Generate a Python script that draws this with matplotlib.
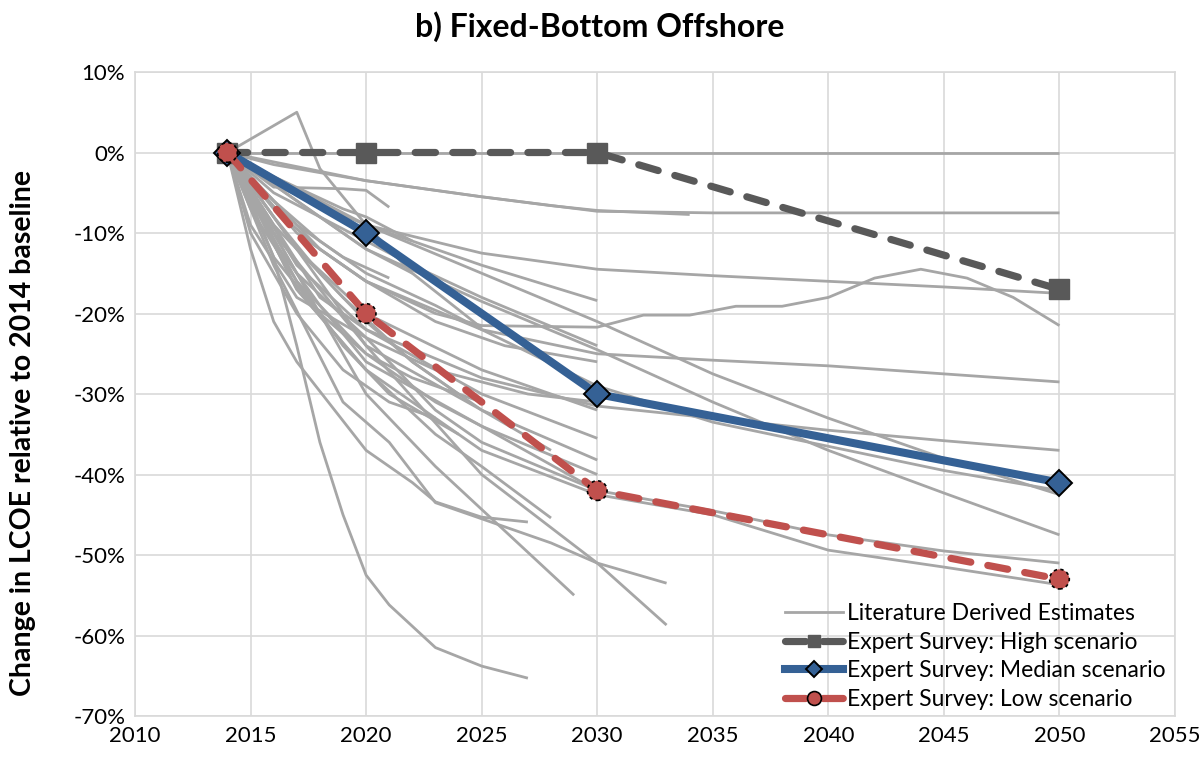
import numpy as np
import matplotlib
matplotlib.use("Agg")
import matplotlib.pyplot as plt
from matplotlib.lines import Line2D
from matplotlib.ticker import FuncFormatter, MultipleLocator

plt.rcParams['font.family'] = ['Lato', 'DejaVu Sans']

# expert survey scenarios (% change vs 2014)
survey_years = [2014, 2020, 2030, 2050]
high_vals = [0, 0, 0, -17]
median_vals = [0, -10, -30, -41]
low_vals = [0, -20, -42, -53]

# literature derived estimates, one (years, values) pair per study
literature = [
    ([2014, 2050], [0, 0]),
    ([2014, 2017, 2018, 2020, 2022, 2025], [0, 5, -2, -9, -15, -21.8]),
    ([2014, 2016, 2018, 2020, 2022, 2025, 2028, 2030, 2034], [0, -1.5, -2.5, -3.5, -4.3, -5.5, -6.6, -7.2, -7.7]),
    ([2014, 2020, 2025, 2030, 2035, 2040, 2050], [0, -3.5, -5.5, -7.3, -7.5, -7.5, -7.5]),
    ([2014, 2017, 2020, 2025, 2030, 2035, 2040, 2045, 2050], [0, -5, -9, -12.5, -14.5, -15.3, -16, -16.7, -17.5]),
    ([2014, 2017, 2020, 2023, 2025, 2030, 2032, 2034, 2036, 2038, 2040, 2042, 2044, 2046, 2048, 2050],
     [0, -10, -16, -20, -21.5, -21.7, -20.2, -20.2, -19.1, -19.1, -18, -15.6, -14.5, -15.6, -18, -21.5]),
    ([2014, 2018, 2020, 2025, 2030, 2035, 2040, 2045, 2050], [0, -12, -16, -22, -25, -25.8, -26.5, -27.5, -28.5]),
    ([2014, 2016, 2020, 2025, 2030], [0, -4, -9, -14, -18.4]),
    ([2014, 2020, 2025, 2030, 2035, 2040, 2045, 2050], [0, -9, -15, -21, -27.5, -33, -38, -42.5]),
    ([2014, 2020, 2025, 2030, 2035, 2040, 2045, 2050], [0, -12, -18.5, -24.5, -31, -37, -42.3, -47.5]),
    ([2014, 2018, 2020, 2025, 2030, 2035, 2040, 2045, 2050], [0, -18, -22, -28, -31.5, -33, -34.5, -35.8, -37]),
    ([2014, 2017, 2020, 2025, 2030], [0, -12, -20, -27, -32]),
    ([2014, 2017, 2020, 2025, 2030], [0, -14, -22, -30, -35.5]),
    ([2014, 2016, 2020, 2025, 2030], [0, -10, -24, -32, -38.2]),
    ([2014, 2017, 2020, 2023, 2025, 2030], [0, -16, -25, -31, -34, -40]),
    ([2014, 2017, 2020, 2023, 2025, 2030, 2035, 2040, 2045, 2050], [0, -15, -23, -32, -36, -42, -44.5, -47.5, -49.5, -51]),
    ([2014, 2017, 2020, 2025, 2030, 2035, 2040, 2045, 2050], [0, -17, -27, -37, -42.5, -45, -49.4, -51.5, -53.7]),
    ([2014, 2015, 2016, 2017, 2018, 2019, 2020, 2021, 2023, 2025, 2027], [0, -6, -13, -24, -36, -45, -52.5, -56.2, -61.5, -63.8, -65.3]),
    ([2014, 2015, 2016, 2017, 2020, 2022, 2023, 2025, 2027], [0, -12, -21, -26, -37, -41, -43.4, -45.3, -45.9]),
    ([2014, 2017, 2020, 2023, 2025, 2028], [0, -17, -27, -35, -39, -45.4]),
    ([2014, 2016, 2018, 2020, 2023, 2026, 2029], [0, -10, -20, -30, -39, -47, -55]),
    ([2014, 2016, 2019, 2021, 2023, 2028, 2030, 2033], [0, -14, -31, -36, -43.5, -48.5, -51, -53.5]),
    ([2014, 2017, 2020, 2025, 2030, 2033], [0, -12, -24, -40, -51, -58.7]),
    ([2014, 2016, 2019, 2020, 2021], [0, -4.3, -4.5, -4.7, -6.8]),
    ([2014, 2017, 2019, 2021], [0, -9, -13, -15.6]),
    ([2014, 2016, 2018, 2020, 2022, 2025, 2030], [0, -5, -8, -11, -14, -18, -24]),
    ([2014, 2016, 2018, 2020, 2023, 2026, 2030], [0, -7, -12, -16, -21, -24, -26]),
    ([2014, 2015, 2017, 2020, 2023, 2027, 2030], [0, -9, -18, -23, -27, -30, -31]),
    ([2014, 2016, 2018, 2020, 2022, 2025], [0, -13, -20, -25, -28, -31]),
    ([2014, 2016, 2018, 2020, 2022, 2024], [0, -8, -15, -21, -26, -30]),
    ([2014, 2015, 2017, 2019, 2021, 2023], [0, -10, -20, -27, -31, -33]),
    ([2014, 2016, 2019, 2022, 2025, 2028], [0, -9, -18, -26, -32, -37]),
    ([2014, 2016, 2018, 2020, 2023, 2025, 2030, 2035, 2040, 2045, 2050], [0, -6, -11, -15, -19, -22, -29, -33.5, -36.5, -39.5, -42]),
    ([2014, 2017, 2020, 2022], [0, -6, -12, -15]),
    ([2014, 2016, 2019, 2020, 2022], [0, -3, -7, -8, -11]),
    ([2014, 2015, 2017, 2019, 2021, 2024], [0, -7, -16, -24, -30, -35]),
    ([2014, 2016, 2018, 2020, 2025, 2030], [0, -11, -19, -26, -34, -42]),
]

lit_color = '#a6a6a6'
high_color = '#595959'
median_color = '#356195'
low_color = '#c0504d'

fig = plt.figure(figsize=(11.99, 7.58), dpi=100)
ax = fig.add_axes([0.1126, 0.0554, 0.8674, 0.8496])

for yrs, vals in literature:
    ax.plot(yrs, vals, color=lit_color, lw=2.0, zorder=2, solid_capstyle='butt')

ax.plot(survey_years, high_vals, color=high_color, lw=5.2, ls=(0, (2.8, 2.4)),
        dash_capstyle='round', marker='s', ms=14, mfc=high_color, mec=high_color, zorder=4)
ax.plot(survey_years, median_vals, color=median_color, lw=5.8, marker='D', ms=13,
        mfc=median_color, mec='black', mew=1.4, zorder=5)
ax.plot(survey_years, low_vals, color=low_color, lw=5.2, ls=(0, (2.8, 2.4)),
        dash_capstyle='round', zorder=6)
ax.scatter(survey_years, low_vals, s=200, color=low_color, edgecolors='black',
           linewidths=1.2, linestyles=(0, (2, 2)), zorder=7)

ax.set_xlim(2010, 2055)
ax.set_ylim(-70, 10)
ax.xaxis.set_major_locator(MultipleLocator(5))
ax.yaxis.set_major_locator(MultipleLocator(10))
ax.yaxis.set_major_formatter(FuncFormatter(lambda v, p: f"{v:.0f}%"))
ax.grid(True, color='#d9d9d9', lw=1.2, zorder=0)
ax.set_axisbelow(True)
for s in ax.spines.values():
    s.set_color('#d9d9d9')
    s.set_linewidth(1.2)
ax.tick_params(length=0, labelsize=16, pad=7)

ax.set_ylabel("Change in LCOE relative to 2014 baseline", fontsize=20.5, fontweight='bold', labelpad=8)
ax.yaxis.set_label_coords(-0.095, 0.44)
fig.suptitle("b) Fixed-Bottom Offshore", fontsize=23, fontweight='bold', y=0.985)

handles = [
    Line2D([], [], color=lit_color, lw=2.0),
    Line2D([], [], color=high_color, lw=5.2, ls=(0, (2.8, 2.4)), dash_capstyle='round',
           marker='s', ms=9, mfc=high_color, mec=high_color),
    Line2D([], [], color=median_color, lw=5.8, marker='D', ms=8, mfc=median_color, mec='black', mew=1.4),
    Line2D([], [], color=low_color, lw=5.2, ls=(0, (2.8, 2.4)), dash_capstyle='round',
           marker='o', ms=10, mfc=low_color, mec='black', mew=1.2),
]
labels = ["Literature Derived Estimates", "Expert Survey: High scenario",
          "Expert Survey: Median scenario", "Expert Survey: Low scenario"]
ax.legend(handles, labels, loc='lower right', bbox_to_anchor=(1.0, -0.005), frameon=False,
          fontsize=16.5, handlelength=2.5, handletextpad=0.2, labelspacing=0.33,
          borderaxespad=0.0)

fig.savefig("out.png", dpi=100)
